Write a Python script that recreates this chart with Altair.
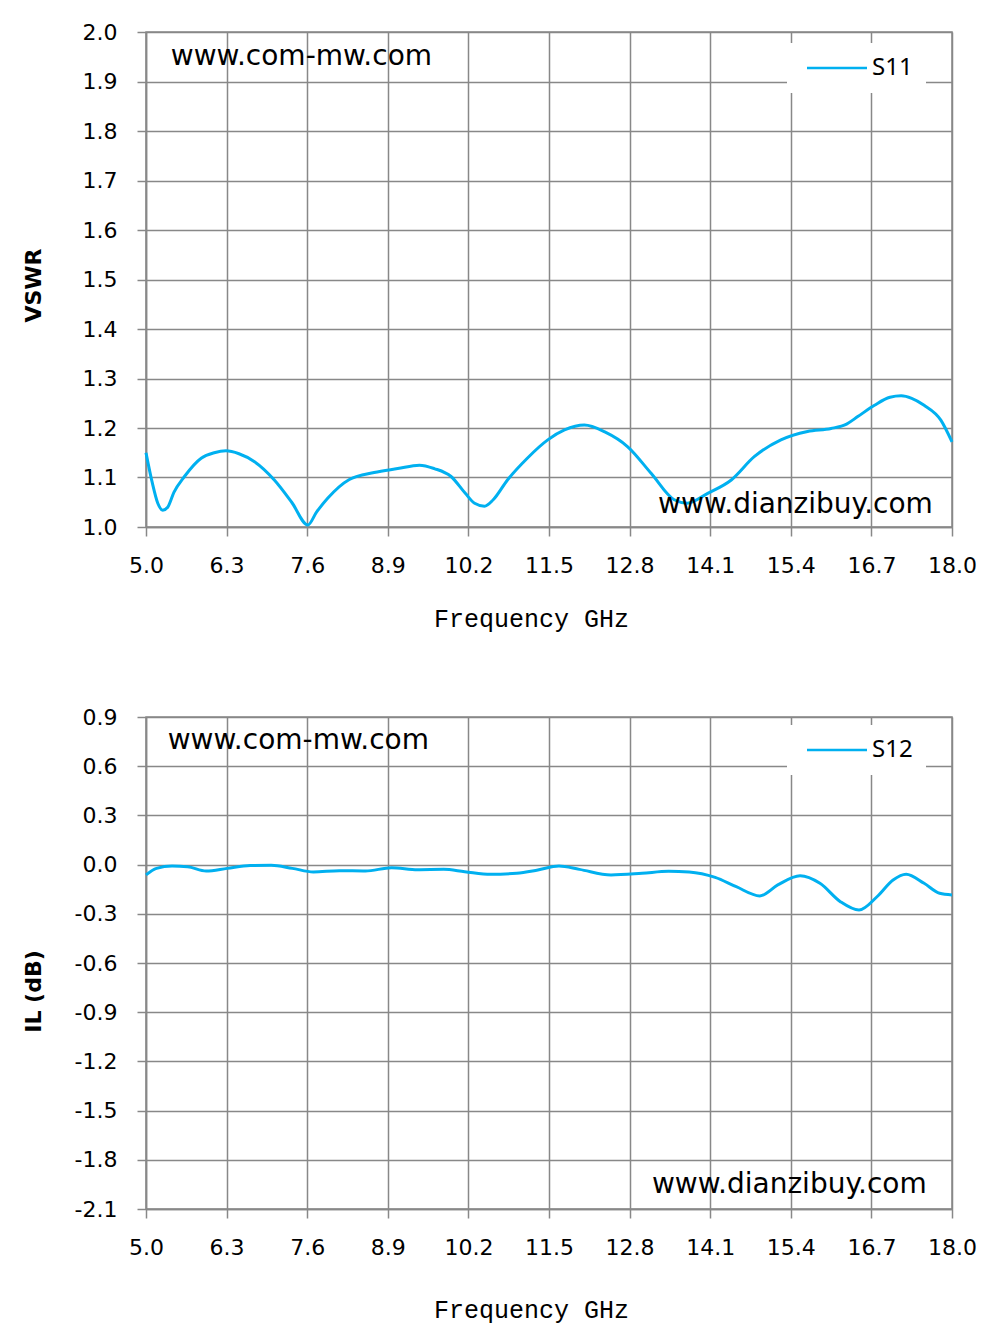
import altair as alt
import pandas as pd

# ---- data ----
s11_freq = [5.00, 5.10, 5.19, 5.27, 5.35, 5.45, 5.62, 5.89, 6.10, 6.29, 6.50, 6.75,
            7.07, 7.35, 7.61, 7.75, 7.93, 8.28, 8.68, 9.06, 9.41, 9.65, 9.92, 10.15,
            10.30, 10.46, 10.60, 10.83, 11.15, 11.48, 11.75, 12.07, 12.40, 12.77,
            13.15, 13.52, 13.73, 14.06, 14.44, 14.81, 15.24, 15.67, 16.05, 16.30,
            16.48, 16.75, 17.00, 17.18, 17.35, 17.55, 17.82, 18.00]
s11_vswr = [1.150, 1.090, 1.048, 1.034, 1.040, 1.070, 1.102, 1.139, 1.150, 1.154, 1.148, 1.132,
            1.095, 1.050, 1.004, 1.030, 1.058, 1.096, 1.110, 1.118, 1.125, 1.118, 1.102, 1.068,
            1.048, 1.042, 1.055, 1.095, 1.139, 1.176, 1.196, 1.206, 1.192, 1.162,
            1.108, 1.055, 1.048, 1.068, 1.095, 1.142, 1.176, 1.193, 1.199, 1.208,
            1.223, 1.246, 1.262, 1.265, 1.260, 1.246, 1.216, 1.172]

s12_freq = [5.00, 5.17, 5.42, 5.67, 5.97, 6.31, 6.68, 7.02, 7.36, 7.70, 8.12, 8.54,
            8.96, 9.38, 9.80, 10.14, 10.56, 10.98, 11.32, 11.66, 11.99, 12.50, 13.00,
            13.43, 13.76, 14.18, 14.52, 14.90, 15.19, 15.55, 15.87, 16.20, 16.50,
            16.79, 17.05, 17.26, 17.55, 17.80, 18.00]
s12_il = [-0.063, -0.023, -0.009, -0.013, -0.039, -0.023, -0.006, -0.004, -0.023, -0.045,
          -0.037, -0.039, -0.019, -0.031, -0.029, -0.043, -0.059, -0.053, -0.033, -0.009,
          -0.029, -0.063, -0.053, -0.041, -0.045, -0.078, -0.135, -0.191, -0.124, -0.068,
          -0.114, -0.226, -0.277, -0.196, -0.094, -0.059, -0.114, -0.175, -0.185]

x_ticks = [5.0, 6.3, 7.6, 8.9, 10.2, 11.5, 12.8, 14.1, 15.4, 16.7, 18.0]
vswr_ticks = [1.0, 1.1, 1.2, 1.3, 1.4, 1.5, 1.6, 1.7, 1.8, 1.9, 2.0]
il_ticks = [-2.1, -1.8, -1.5, -1.2, -0.9, -0.6, -0.3, 0.0, 0.3, 0.6, 0.9]

wm_text = ["www.com-mw.com", "www.dianzibuy.com"]
wm_top_x = [5.40, 13.26]
wm_top_y = [1.949, 1.044]
wm_bot_x = [5.35, 13.16]
wm_bot_y = [0.754, -1.954]

LINE = "#00B0F0"
GRID = "#888888"
LABEL_EXPR = "replace(datum.label, '\u2212', '-')"

df11 = pd.DataFrame({"f": s11_freq, "v": s11_vswr, "s": "S11"})
df12 = pd.DataFrame({"f": s12_freq, "v": s12_il, "s": "S12"})
wt = pd.DataFrame({"t": wm_text, "x": wm_top_x, "y": wm_top_y})
wb = pd.DataFrame({"t": wm_text, "x": wm_bot_x, "y": wm_bot_y})


def xaxis(title_y):
    return alt.Axis(values=x_ticks, format=".1f", title="Frequency GHz",
                    labelFlush=False, labelOverlap=False, labelPadding=19,
                    titleX=385, titleY=title_y, titleBaseline="middle", titleAlign="center",
                    titleFont="'Liberation Mono', 'Courier New', monospace",
                    titleFontSize=25, titleFontWeight="normal")


def yaxis(vals, title, title_y):
    return alt.Axis(values=vals, format=".1f", title=title, labelExpr=LABEL_EXPR,
                    labelFlush=False, labelOverlap=False, labelPadding=20,
                    titleAngle=270, titleX=-113, titleY=title_y,
                    titleBaseline="middle", titleAlign="center",
                    titleFont="DejaVu Sans", titleFontSize=22, titleFontWeight="bold")


def panel(df, wdf, dom, vals, ytitle, title_y_x, title_y_y, name, h, leg_y):
    xs = alt.Scale(domain=[5, 18], nice=False, zero=False)
    ys = alt.Scale(domain=dom, nice=False, zero=False)
    line = alt.Chart(df).mark_line(strokeWidth=3, interpolate="monotone").encode(
        x=alt.X("f:Q", scale=xs, axis=xaxis(title_y_x)),
        y=alt.Y("v:Q", scale=ys, axis=yaxis(vals, ytitle, title_y_y)),
        color=alt.Color("s:N", scale=alt.Scale(domain=[name], range=[LINE]),
                        legend=alt.Legend(orient="none", legendX=641, legendY=leg_y, title=None,
                                          fillColor="white", padding=13,
                                          symbolType="M-1,0H11", symbolSize=100,
                                          symbolStrokeWidth=2.5, labelOffset=48,
                                          labelFont="Noto Sans", labelFontSize=24,
                                          labelColor="black")),
    )
    txt = alt.Chart(wdf).mark_text(align="left", baseline="middle", font="DejaVu Sans",
                                   fontSize=28, color="black").encode(
        x=alt.X("x:Q", scale=xs), y=alt.Y("y:Q", scale=ys), text="t:N")
    return alt.layer(line, txt).properties(width=806, height=h)


top = panel(df11, wt, [1.0, 2.0], vswr_ticks, "VSWR", 91, 253, "S11", 495, 11)
bot = panel(df12, wb, [-2.1, 0.9], il_ticks, "IL (dB)", 100, 274, "S12", 492, 8)

chart = alt.vconcat(top, bot, spacing=73).resolve_scale(color="independent").properties(
    padding={"left": 13, "top": 12, "right": 13, "bottom": 13},
    background="white",
).configure_axis(
    gridColor=GRID, gridWidth=1.5, domainColor=GRID, domainWidth=1.5,
    tickColor=GRID, tickWidth=1.5, tickSize=9,
    labelFont="DejaVu Sans", labelFontSize=22, labelColor="black",
    titleColor="black",
).configure_view(
    stroke=GRID, strokeWidth=1.5
)

chart.save("out.html", embed_options={"renderer": "svg", "actions": False})
